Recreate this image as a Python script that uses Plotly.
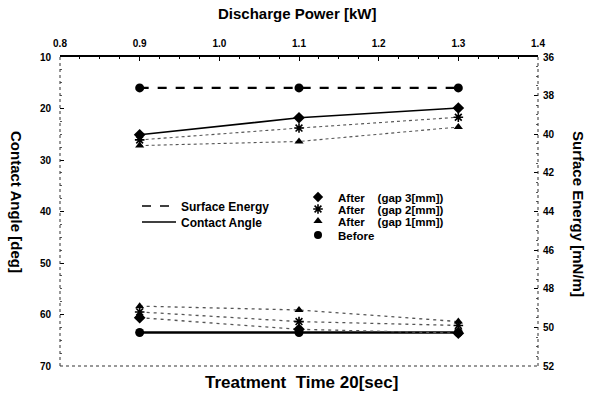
import plotly.graph_objects as go

# ---- data ----
power_kw = [0.9, 1.1, 1.3]

# Contact angle [deg] (left axis)
ca_before = [63.5, 63.5, 63.5]
ca_gap3 = [25.1, 21.8, 19.9]
ca_gap2 = [26.1, 23.8, 21.7]
ca_gap1 = [27.2, 26.4, 23.6]

# Surface energy [mN/m] (right axis)
se_before = [37.6, 37.6, 37.6]
se_gap3 = [49.5, 50.1, 50.3]
se_gap2 = [49.2, 49.7, 49.9]
se_gap1 = [48.9, 49.1, 49.7]

x_ticks = [0.8, 0.9, 1.0, 1.1, 1.2, 1.3, 1.4]
left_ticks = [10, 20, 30, 40, 50, 60, 70]
right_ticks = [36, 38, 40, 42, 44, 46, 48, 50, 52]

FONT = "Liberation Sans, Arial, sans-serif"
BLACK = "#000000"
GRAY = "#555555"

# plot-area geometry (pixels) used to place legends/labels
L, R, T, B = 60, 538, 57, 366
PW, PH = R - L, B - T

def px(x):
    return (x - L) / PW

def py(y):
    return (B - y) / PH

fig = go.Figure()

def add(y, symbol, dash, width, color, axis, msize=8, mline=0):
    fig.add_trace(go.Scatter(
        x=power_kw, y=y, mode="lines+markers", yaxis=axis, showlegend=False,
        line=dict(color=color, dash=dash, width=width),
        marker=dict(symbol=symbol, size=msize, color=BLACK,
                    line=dict(color=BLACK, width=mline)),
    ))

# surface energy (right axis)
add(se_before, "circle", "dash", 2.2, BLACK, "y2", 9)
add(se_gap1, "triangle-up", "3px,4px", 1.3, GRAY, "y2", 8)
add(se_gap2, "asterisk-open", "3px,4px", 1.3, GRAY, "y2", 8, 1.6)
add(se_gap3, "diamond", "3px,4px", 1.3, GRAY, "y2", 9)
# contact angle (left axis)
add(ca_before, "circle", "solid", 2.4, BLACK, "y", 9)
add(ca_gap1, "triangle-up", "dot", 1.1, GRAY, "y", 8)
add(ca_gap2, "asterisk-open", "dot", 1.1, GRAY, "y", 8, 1.6)
add(ca_gap3, "diamond", "solid", 1.6, BLACK, "y", 9)

legends = {}

# line-style legend entries
line_entries = [("Surface Energy", "dash", 206), ("Contact Angle", "solid", 222)]
for i, (name, dash, yc) in enumerate(line_entries):
    key = "legend" if i == 0 else f"legend{i + 1}"
    fig.add_trace(go.Scatter(x=[None], y=[None], mode="lines", name=name,
                             line=dict(color=BLACK, dash=dash, width=1.5), legend=key))
    legends[key] = dict(x=px(137), y=py(yc), xanchor="left", yanchor="middle",
                        bgcolor="rgba(0,0,0,0)", itemwidth=34,
                        font=dict(family=FONT, size=12, color=BLACK, weight="bold"))

# marker legend entries
marker_entries = [("After    (gap 3[mm])", "diamond", 0, 197),
                  ("After    (gap 2[mm])", "asterisk-open", 1.6, 209),
                  ("After    (gap 1[mm])", "triangle-up", 0, 221),
                  ("Before", "circle", 0, 235)]
for j, (name, sym, ml, yc) in enumerate(marker_entries):
    key = f"legend{j + 3}"
    fig.add_trace(go.Scatter(x=[None], y=[None], mode="markers", name=name,
                             marker=dict(symbol=sym, size=8, color=BLACK,
                                         line=dict(color=BLACK, width=ml)),
                             legend=key))
    legends[key] = dict(x=px(298), y=py(yc), xanchor="left", yanchor="middle",
                        bgcolor="rgba(0,0,0,0)", itemwidth=30,
                        font=dict(family=FONT, size=11.5, color=BLACK, weight="bold"))

# frame: dotted left/right/bottom (scanned look)
for x0, y0, x1, y1 in [(0, 0, 0, 1), (1, 0, 1, 1), (0, 0, 1, 0)]:
    fig.add_shape(type="line", xref="paper", yref="paper", x0=x0, y0=y0, x1=x1, y1=y1,
                  line=dict(color="#333333", width=1, dash="dot"))

tickfont = dict(family=FONT, size=10, color=BLACK, weight="bold")
titlefont = dict(family=FONT, size=15, color=BLACK, weight="bold")
fig.update_layout(
    width=590, height=401,
    margin=dict(l=L, r=590 - R, t=T, b=401 - B, autoexpand=False),
    paper_bgcolor="white", plot_bgcolor="white",
    font=dict(family=FONT, color=BLACK),
    xaxis=dict(side="top", range=[0.8, 1.4], tickvals=x_ticks, ticktext=[f"{v:.1f}" for v in x_ticks],
               showgrid=False, zeroline=False, showline=True, linecolor=BLACK, linewidth=1.5,
               ticks="inside", ticklen=4, tickcolor=BLACK, tickfont=tickfont, automargin=False,
               ticklabelstandoff=4,
               minor=dict(ticks="inside", ticklen=2, dtick=0.025, tickcolor=BLACK)),
    yaxis=dict(range=[70, 10], tickvals=left_ticks, showgrid=False, zeroline=False,
               ticks="inside", ticklen=4, tickcolor=BLACK, tickfont=tickfont, automargin=False,
               ticklabelstandoff=8,
               minor=dict(ticks="inside", ticklen=2, dtick=2.5, tickcolor="#555")),
    yaxis2=dict(range=[52, 36], tickvals=right_ticks, overlaying="y", side="right",
                showgrid=False, zeroline=False, ticks="inside", ticklen=4, tickcolor=BLACK,
                tickfont=tickfont, automargin=False, ticklabelstandoff=4,
                minor=dict(ticks="inside", ticklen=2, dtick=0.5, tickcolor="#555")),
    annotations=[
        dict(text="Discharge Power [kW]", xref="paper", yref="paper", x=px(297), y=py(14),
             xanchor="center", yanchor="middle", showarrow=False, font=titlefont),
        dict(text="Treatment  Time 20[sec]", xref="paper", yref="paper", x=px(301), y=py(383),
             xanchor="center", yanchor="middle", showarrow=False,
             font=dict(family=FONT, size=17, color=BLACK, weight="bold")),
        dict(text="Contact Angle [deg]", xref="paper", yref="paper", x=px(17), y=py(202),
             textangle=90, showarrow=False, xanchor="center", yanchor="middle", font=titlefont),
        dict(text="Surface Energy [mN/m]", xref="paper", yref="paper", x=px(579), y=py(214),
             textangle=90, showarrow=False, xanchor="center", yanchor="middle", font=titlefont),
    ],
)
fig.update_layout(**legends)

fig.write_html("out.html", config={"displayModeBar": False},
               post_script="document.body.style.margin='0px';")
